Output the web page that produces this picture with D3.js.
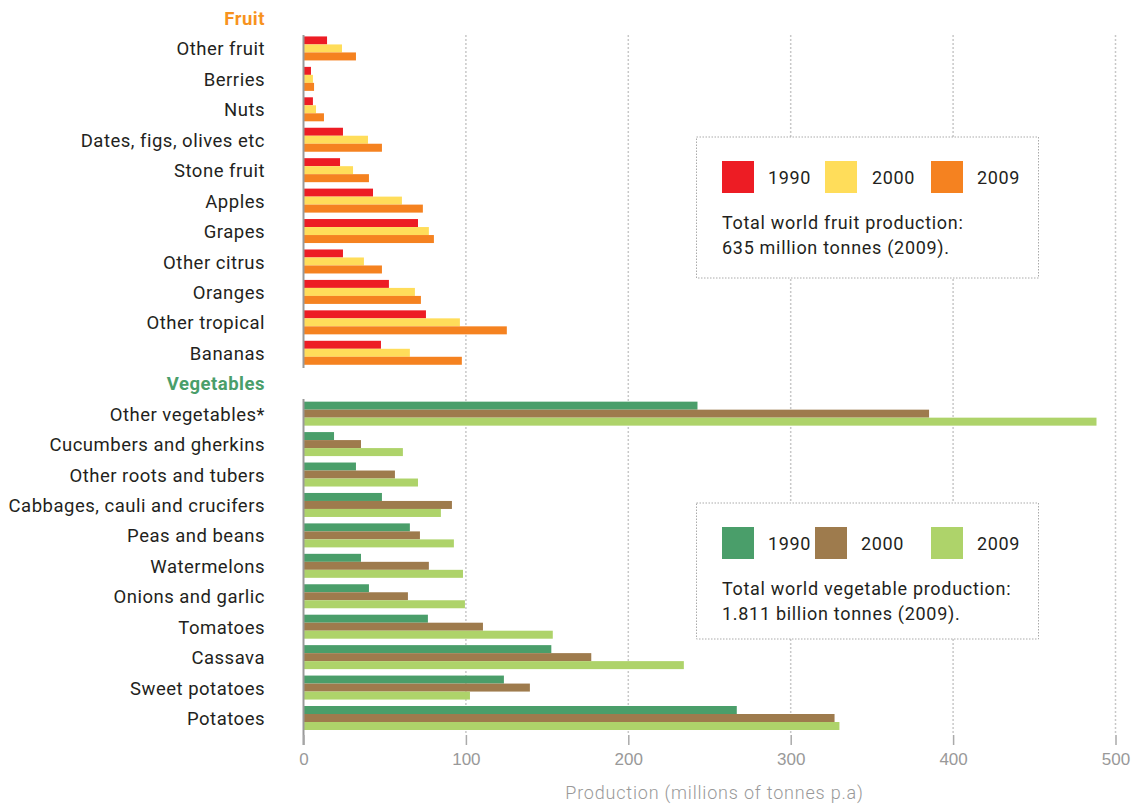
<!DOCTYPE html>
<html lang="en">
<head>
  <meta charset="UTF-8">
  <title>World fruit and vegetable production</title>
  <script src="https://d3js.org/d3.v7.min.js"></script>
  <style>
    body { margin: 0; background: #fff; }
    svg { font-family: Roboto, "Noto Sans", sans-serif; }
  </style>
</head>
<body>
  <div id="chart"></div>
  <script>
    // data (millions of tonnes)
    const years = ["1990", "2000", "2009"];

    const fruitNames = ["Other fruit", "Berries", "Nuts", "Dates, figs, olives etc", "Stone fruit",
      "Apples", "Grapes", "Other citrus", "Oranges", "Other tropical", "Bananas"];
    const fruit1990 = [14.5, 4.6, 5.8, 24.3, 22.5, 42.8, 70.5, 24.3, 52.6, 75.4, 47.7];
    const fruit2000 = [23.7, 5.8, 7.7, 39.7, 30.5, 60.6, 77.2, 37.2, 68.6, 96.3, 65.5];
    const fruit2009 = [32.3, 6.5, 12.6, 48.3, 40.3, 73.5, 80.3, 48.3, 72.3, 125.2, 97.5];

    const vegNames = ["Other vegetables*", "Cucumbers and gherkins", "Other roots and tubers",
      "Cabbages, cauli and crucifers", "Peas and beans", "Watermelons", "Onions and garlic",
      "Tomatoes", "Cassava", "Sweet potatoes", "Potatoes"];
    const veg1990 = [242.6, 18.8, 32.3, 48.3, 65.5, 35.4, 40.3, 76.6, 152.6, 123.4, 266.8];
    const veg2000 = [385.2, 35.4, 56.3, 91.4, 71.7, 77.2, 64.3, 110.5, 177.2, 139.4, 327.0];
    const veg2009 = [488.3, 61.2, 70.5, 84.6, 92.6, 98.2, 99.4, 153.5, 234.2, 102.5, 330.0];

    const xTicks = [0, 100, 200, 300, 400, 500];

    const fruitColors = ["#ed1c24", "#ffdd5a", "#f58220"];
    const vegColors = ["#4a9e6a", "#9e7b4d", "#aed36a"];

    const width = 1135, height = 804;
    const svg = d3.select("#chart").append("svg")
      .attr("width", width)
      .attr("height", height);

    const rows = ["Fruit"].concat(fruitNames, ["Vegetables"], vegNames);

    const x = d3.scaleLinear().domain([0, 500]).range([303.5, 1115.5]);
    const y = d3.scalePoint().domain(rows).range([18, 718]);
    const sub = d3.scaleBand().domain(years).range([-12, 12]);

    // dotted gridlines
    svg.append("g").selectAll("line")
      .data(xTicks.slice(1))
      .join("line")
      .attr("x1", d => x(d)).attr("x2", d => x(d))
      .attr("y1", 35).attr("y2", 735)
      .attr("stroke", "#c8c8c8")
      .attr("stroke-width", 1.5)
      .attr("stroke-dasharray", "2,2");

    function drawGroup(names, series, colors) {
      const g = svg.append("g");
      names.forEach((name, i) => {
        years.forEach((yr, j) => {
          g.append("rect")
            .attr("x", x(0))
            .attr("y", y(name) + sub(yr))
            .attr("width", x(series[j][i]) - x(0))
            .attr("height", sub.bandwidth())
            .attr("fill", colors[j]);
        });
      });
    }
    drawGroup(fruitNames, [fruit1990, fruit2000, fruit2009], fruitColors);
    drawGroup(vegNames, [veg1990, veg2000, veg2009], vegColors);

    // axis (baseline split into two panels)
    [[35, 368], [399, 745]].forEach(seg => {
      svg.append("line")
        .attr("x1", x(0)).attr("x2", x(0))
        .attr("y1", seg[0]).attr("y2", seg[1])
        .attr("stroke", "#999").attr("stroke-width", 2);
    });

    const xAxis = svg.append("g")
      .attr("transform", "translate(0,735)")
      .call(d3.axisBottom(x).tickValues(xTicks).tickSize(10).tickPadding(8));
    xAxis.select(".domain").remove();
    xAxis.selectAll(".tick line").attr("stroke", "#aaa").attr("stroke-width", 1.5);
    xAxis.selectAll(".tick text")
      .attr("fill", "#999")
      .style("font-size", "17px")
      .style("font-weight", 300);

    svg.append("text")
      .attr("x", x(250) + 5)
      .attr("y", 799)
      .attr("text-anchor", "middle")
      .attr("fill", "#999")
      .style("font-size", "18px")
      .style("font-weight", 300)
      .style("letter-spacing", "0.8px")
      .text("Production (millions of tonnes p.a)");

    // category labels
    svg.append("g").selectAll("text")
      .data(rows)
      .join("text")
      .attr("x", 265)
      .attr("y", d => y(d))
      .attr("dy", "0.38em")
      .attr("text-anchor", "end")
      .style("font-size", "18.5px")
      .style("letter-spacing", "0.5px")
      .style("font-weight", d => (d === "Fruit" || d === "Vegetables") ? 700 : 400)
      .attr("fill", d => d === "Fruit" ? "#f7931e" : d === "Vegetables" ? "#4a9e6a" : "#231f20")
      .text(d => d);

    // legend boxes
    function legendBox(top, h, colors, swatchX, textX, lines) {
      const g = svg.append("g");
      g.append("rect")
        .attr("x", 696.5).attr("y", top)
        .attr("width", 342).attr("height", h)
        .attr("fill", "#fff")
        .attr("stroke", "#aaa")
        .attr("stroke-width", 1)
        .attr("stroke-dasharray", "1.5,1.5");
      years.forEach((yr, i) => {
        g.append("rect")
          .attr("x", swatchX[i]).attr("y", top + 24)
          .attr("width", 32).attr("height", 32)
          .attr("fill", colors[i]);
        g.append("text")
          .attr("x", textX[i]).attr("y", top + 41)
          .attr("dy", "0.35em")
          .attr("fill", "#231f20")
          .style("font-size", "18px")
          .style("letter-spacing", "0.6px")
          .text(yr);
      });
      lines.forEach((t, i) => {
        g.append("text")
          .attr("x", 722).attr("y", top + 92 + i * 25)
          .attr("fill", "#231f20")
          .style("font-size", "18px")
          .style("letter-spacing", "0.7px")
          .text(t);
      });
    }
    legendBox(137, 141, fruitColors, [722, 825, 931], [768, 872, 977],
      ["Total world fruit production:", "635 million tonnes (2009)."]);
    legendBox(503, 136, vegColors, [722, 815, 931], [768, 861, 977],
      ["Total world vegetable production:", "1.811 billion tonnes (2009)."]);
  </script>
</body>
</html>
